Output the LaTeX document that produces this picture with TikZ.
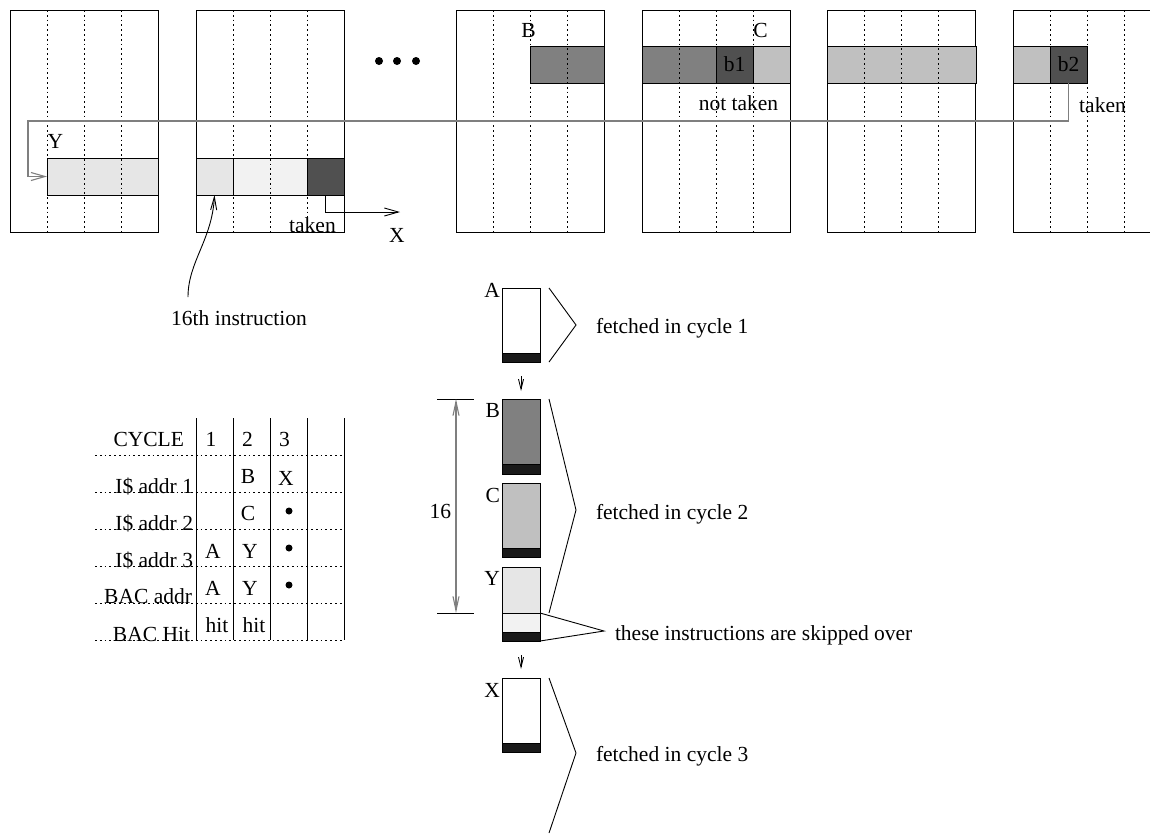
\documentclass[tikz,border=0pt]{standalone}
\usepackage{fontspec}
\setmainfont{Liberation Serif}
\usetikzlibrary{arrows.meta}
\definecolor{cLight}{HTML}{E6E6E6}
\definecolor{cLighter}{HTML}{F2F2F2}
\definecolor{cDark}{HTML}{505050}
\definecolor{cMid}{HTML}{808080}
\definecolor{cSilver}{HTML}{C0C0C0}
\definecolor{cBand}{HTML}{1A1A1A}
\definecolor{cLine}{HTML}{7F7F7F}
\begin{document}
\begin{tikzpicture}[x=1pt,y=-1pt,line width=0.9pt,
  every node/.style={font=\fontsize{21.5}{25}\selectfont,inner sep=0pt,outer sep=0pt},
  blockbox/.style={draw=black,minimum width=148pt,minimum height=222pt,anchor=north west},
  cellbox/.style={draw=black,minimum height=37pt,minimum width=#1,anchor=north west},
  cellbox/.default=37pt,
  gridline/.style={black,line width=1pt,dash pattern=on 1.8pt off 3pt},
  bigarrow/.style={-{Straight Barb[length=14pt,width=8pt]}},
  smallarrow/.style={-{Straight Barb[length=10pt,width=5pt]}},
  curvearrow/.style={-{Straight Barb[length=13pt,width=6pt]}},
  grayline/.style={draw=cLine,line width=1.1pt},
  stackbox/.style={draw=black,minimum width=38pt,minimum height=#1,anchor=north west},
  band/.style={fill=cBand,draw=black},
  lbl/.style={anchor=base},
  rlbl/.style={anchor=base east},
  llbl/.style={anchor=base west},
  bracket/.style={draw=black,line width=0.9pt},
]
\clip (0,0) rectangle (1150,833);
\fill[white] (0,0) rectangle (1150,833);

% ---- cache blocks ----
\foreach \n/\x in {1/10,2/196,3/456,4/642,5/827,6/1013}
  \node[blockbox] (blk\n) at (\x,10) {};

\node[cellbox=111pt,fill=cLight] (y1) at (47,158) {};
\node[cellbox,fill=cLight] (i16) at (196,158) {};
\node[cellbox=74pt,fill=cLighter] (skp) at (233,158) {};
\node[cellbox,fill=cDark] (tk) at (307,158) {};
\node[cellbox=74pt,fill=cMid] (bcell) at (530,46) {};
\node[cellbox=74pt,fill=cMid] (c1) at (642,46) {};
\node[cellbox,fill=cDark] (b1) at (716,46) {b1};
\node[cellbox,fill=cSilver] (c2) at (753,46) {};
\node[cellbox=149pt,fill=cSilver] (c3) at (827,46) {};
\node[cellbox,fill=cSilver] (c4) at (1013,46) {};
\node[cellbox,fill=cDark] (b2) at (1050,46) {b2};

\foreach \x in {10,196,456,642,827,1013}
  \foreach \d in {37,74,111}
    \draw[gridline] (\x+\d,10) -- (\x+\d,232);

\foreach \x in {379,397,416}
  \fill (\x,61) circle (4pt);

\node[lbl] (lY) at (55.5,148) {Y};
\node[lbl] (lB) at (528.5,37) {B};
\node[lbl] (lC) at (760.5,37) {C};
\node[lbl] (lnt) at (738.5,110) {not taken};
\node[lbl] (lt2) at (1102.5,112) {taken};
\node[lbl] (lt1) at (312.5,232) {taken};
\node[lbl] (lX) at (397,242) {X};
\node[lbl] (l16) at (239,325) {16th instruction};

\coordinate (tR) at (1068.5,121);
\coordinate (tL) at (28,121);
\coordinate (tLd) at (28,176.5);
\draw[grayline,bigarrow] (b2.south) -- (tR) -- (tL) -- (tLd) -- (y1.west);

\coordinate (xend) at (400,212);
\draw[bigarrow] (tk.south) |- (xend);

\coordinate (c16) at (188,297);
\draw[curvearrow] (c16) .. controls (188,262) and (212,240) .. (i16.south);

% ---- table ----
\foreach \x in {196,233,270,307,344}
  \draw (\x,418) -- (\x,640);
\foreach \y in {455,492,529,566,603,640}
  \draw[gridline] (95,\y) -- (344,\y);

\node[rlbl] (tc) at (184,446) {CYCLE};
\node[rlbl] (ta1) at (193,493) {I\$ addr 1};
\node[rlbl] (ta2) at (193,530) {I\$ addr 2};
\node[rlbl] (ta3) at (193,567) {I\$ addr 3};
\node[rlbl] (tba) at (192,603) {BAC addr};
\node[rlbl] (tbh) at (190,641) {BAC Hit};

\node[lbl] (n1) at (211,446) {1};
\node[lbl] (n2) at (247.5,446) {2};
\node[lbl] (n3) at (284.5,446) {3};
\node[lbl] (vB) at (248,483) {B};
\node[lbl] (vX) at (286,485) {X};
\node[lbl] (vC) at (248,520) {C};
\node[lbl] (vA1) at (213,558) {A};
\node[lbl] (vY1) at (250,558) {Y};
\node[lbl] (vA2) at (213,595) {A};
\node[lbl] (vY2) at (250,595) {Y};
\node[lbl] (vh1) at (217,632) {hit};
\node[lbl] (vh2) at (254,632) {hit};
\foreach \y in {511,548,585}
  \fill (289,\y) circle (3.5pt);

% ---- fetch stack ----
\node[stackbox=74pt,fill=white] (sA) at (502,288) {};
\draw[band] (502,353) rectangle (540,362);
\node[stackbox=75pt,fill=cMid] (sB) at (502,399) {};
\draw[band] (502,464) rectangle (540,474);
\node[stackbox=74pt,fill=cSilver] (sC) at (502,483) {};
\draw[band] (502,548) rectangle (540,557);
\node[stackbox=74pt,fill=cLight] (sY) at (502,567) {};
\draw[fill=cLighter] (502,613) rectangle (540,632);
\draw[band] (502,632) rectangle (540,641);
\node[stackbox=74pt,fill=white] (sX) at (502,678) {};
\draw[band] (502,743) rectangle (540,752);

\node[rlbl] (sla) at (500,297) {A};
\node[rlbl] (slb) at (500,417) {B};
\node[rlbl] (slc) at (500,502) {C};
\node[rlbl] (sly) at (500,585) {Y};
\node[rlbl] (slx) at (500,697) {X};

\coordinate (ab1) at (521,376);
\coordinate (ab2) at (521,391);
\draw[smallarrow] (ab1) -- (ab2);
\coordinate (yx1) at (521,655);
\coordinate (yx2) at (521,669);
\draw[smallarrow] (yx1) -- (yx2);

\draw[bracket] (549,288) -- (576,325) -- (549,362);
\node[llbl] (f1) at (596,333) {fetched in cycle 1};
\draw[bracket] (549,399) -- (576,510) -- (549,613);
\node[llbl] (f2) at (596,519) {fetched in cycle 2};
\draw[bracket] (540,613) -- (604,631) -- (540,641);
\node[llbl] (sk) at (615,640) {these instructions are skipped over};
\draw[bracket] (549,678) -- (576,753) -- (549,833);
\node[llbl] (f3) at (596,761) {fetched in cycle 3};

\coordinate (d1) at (456,399);
\coordinate (d2) at (456,613);
\draw (437,399) -- (474,399);
\draw (437,613) -- (474,613);
\draw[grayline,{Straight Barb[length=14pt,width=6pt]}-{Straight Barb[length=14pt,width=6pt]}] (d1) -- (d2);
\node[rlbl] (l16d) at (451,518) {16};
\end{tikzpicture}
\end{document}
